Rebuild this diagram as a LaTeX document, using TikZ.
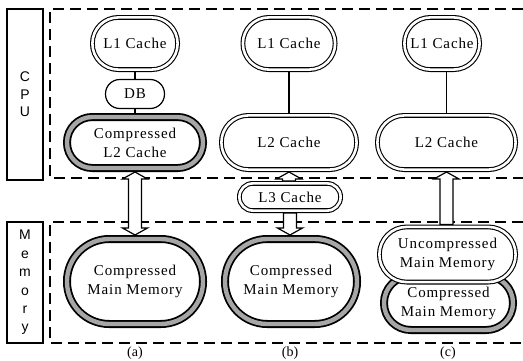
\documentclass[tikz,border=0pt]{standalone}
\usepackage{fontspec}
\setmainfont{Liberation Serif}
\setsansfont{Liberation Sans}
\usetikzlibrary{calc}

\newcommand{\cachefont}{\fontsize{15}{19}\selectfont\addfontfeature{LetterSpace=6}}
\def\hw{12.5pt}
\def\sw{6.5pt}
\def\hl{7pt}

% hollow block arrows between two anchors (first one above the second)
\newcommand{\arrowboth}[2]{\draw[blockarrow] let \p1=(#1), \p2=(#2) in
	(\x1,\y1) -- (\x1+\hw,\y1-\hl) -- (\x1+\sw,\y1-\hl) -- (\x1+\sw,\y2+\hl) -- (\x1+\hw,\y2+\hl) -- (\x1,\y2)
	-- (\x1-\hw,\y2+\hl) -- (\x1-\sw,\y2+\hl) -- (\x1-\sw,\y1-\hl) -- (\x1-\hw,\y1-\hl) -- cycle;}
\newcommand{\arrowup}[2]{\draw[blockarrow] let \p1=(#1), \p2=(#2) in
	(\x1,\y1) -- (\x1+\hw,\y1-\hl) -- (\x1+\sw,\y1-\hl) -- (\x1+\sw,\y2) -- (\x1-\sw,\y2) -- (\x1-\sw,\y1-\hl) -- (\x1-\hw,\y1-\hl) -- cycle;}
\newcommand{\arrowdown}[2]{\draw[blockarrow] let \p1=(#1), \p2=(#2) in
	(\x1-\sw,\y1) -- (\x1+\sw,\y1) -- (\x1+\sw,\y2+\hl) -- (\x1+\hw,\y2+\hl) -- (\x1,\y2) -- (\x1-\hw,\y2+\hl) -- (\x1-\sw,\y2+\hl) -- cycle;}

\tikzset{
	dblbox/.style={draw, line width=1.1pt, double=white, double distance=2.6pt, fill=white, outer sep=2.4pt,
		inner sep=0pt, align=center, font=\cachefont, minimum height=#1, rounded corners={#1/2-0.2pt}},
	ringbox/.style={draw, line width=1.8pt, double=gray!70, double distance=4.4pt, fill=white, outer sep=4pt,
		inner sep=0pt, align=center, font=\cachefont, minimum height=#1, rounded corners={#1/2-0.2pt}},
	thinbox/.style={draw, line width=1.2pt, fill=white, inner sep=0pt, font=\cachefont, minimum height=#1, rounded corners={#1/2-0.2pt}},
	region/.style={dash pattern=on 11pt off 6pt, line width=1.7pt},
	sidebox/.style={draw, line width=1.4pt, inner sep=0pt, align=center},
	blockarrow/.style={line width=1.2pt, fill=white},
	link/.style={line width=1.4pt},
	caption/.style={font=\fontsize{14}{16}\selectfont},
}

\begin{document}
\begin{tikzpicture}[x=1pt,y=-1pt]
	\useasboundingbox (0,0) rectangle (523,360);

	\node[sidebox, minimum width=36pt, minimum height=171pt, font=\sffamily\fontsize{14}{17.5}\selectfont] (cpu) at (25,94.5) {C\\P\\U};
	\node[sidebox, minimum width=36pt, minimum height=121pt, font=\sffamily\fontsize{14}{18.4}\selectfont] (mem) at (25,282.5) {M\\e\\m\\o\\r\\y};

	\draw[region] (523,9) -- (50,9) -- (50,178) -- (523,178);
	\draw[region] (523,222) -- (50,222) -- (50,343) -- (523,343);

	% (a)
	\node[dblbox=52.2pt, minimum width=85.2pt] (L1a) at (135,43.5) {L1 Cache};
	\node[thinbox=29pt, minimum width=59pt] (DBa) at (135,94) {DB};
	\node[ringbox=51pt, minimum width=136pt] (L2a) at (135,142.5) {Compressed\\L2 Cache};
	\node[ringbox=85pt, minimum width=136pt] (Mema) at (135,281.5) {Compressed\\Main Memory};
	\draw[link] (L1a) -- (DBa);
	\draw[link] (DBa) -- (L2a);
	\arrowboth{L2a.south}{Mema.north}
	\node[caption] (capa) at (135,353) {(a)};

	% (b)
	\node[dblbox=52.2pt, minimum width=92.2pt] (L1b) at (289,43.5) {L1 Cache};
	\node[dblbox=54.2pt, minimum width=135.2pt] (L2b) at (289,142.5) {L2 Cache};
	\node[dblbox=27.2pt, minimum width=101.2pt] (L3b) at (290,197) {L3 Cache};
	\node[ringbox=85pt, minimum width=132pt] (Memb) at (291,281.5) {Compressed\\Main Memory};
	\draw[link] (L1b) -- (L2b);
	\arrowup{L2b.south}{L3b.north}
	\arrowdown{L3b.south}{Memb.north}
	\node[caption] (capb) at (290,353) {(b)};

	% (c)
	\node[dblbox=52.2pt, minimum width=75.2pt] (L1c) at (442,43.5) {L1 Cache};
	\node[dblbox=54.2pt, minimum width=138.2pt] (L2c) at (446.5,142.5) {L2 Cache};
	\node[ringbox=54pt, minimum width=129pt] (Cmpc) at (448.5,303) {Compressed\\Main Memory};
	\node[dblbox=55.2pt, minimum width=136.2pt] (Unc) at (447.5,254.5) {Uncompressed\\Main Memory};
	\draw[link] (L2c.north) -- (L2c.north |- L1c.south);
	\arrowup{L2c.south}{Unc.north}
	\node[caption] (capc) at (448,353) {(c)};

\end{tikzpicture}
\end{document}
